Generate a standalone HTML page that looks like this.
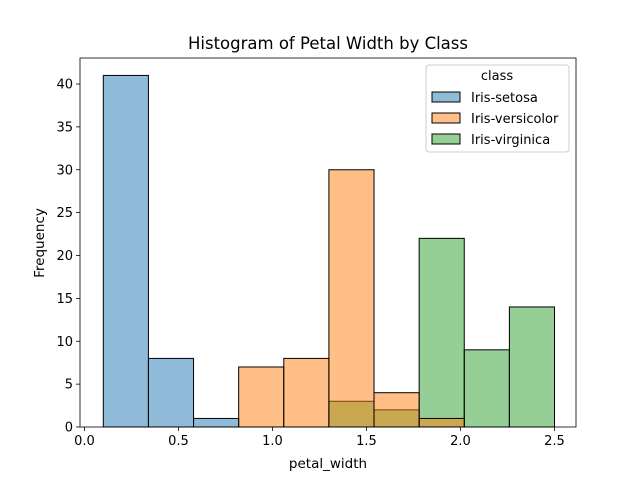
<!DOCTYPE html>
<html><head><meta charset="utf-8"><style>
body{margin:0;background:#fff;}
svg text{font-family:"DejaVu Sans","Liberation Sans",sans-serif;fill:#000;}
</style></head><body>
<svg id="chart" width="640" height="480" xmlns="http://www.w3.org/2000/svg">
<rect width="640" height="480" fill="#fff"/>
<text x="328" y="49" font-size="16.5" text-anchor="middle">Histogram of Petal Width by Class</text>
<g id="bars"></g>
<g id="axes"></g>
<text x="328" y="468" font-size="13.5" text-anchor="middle">petal_width</text>
<text x="44" y="243" font-size="13.5" text-anchor="middle" transform="rotate(-90 44 243)">Frequency</text>
<g id="legend"></g>
</svg>
<script>
const binStart = 0.1, binWidth = 0.24;
const classes = ["Iris-setosa","Iris-versicolor","Iris-virginica"];
const colors = ["#1f77b4","#ff7f0e","#2ca02c"];
const setosa = [41,8,1,0,0,0,0,0,0,0];
const versicolor = [0,0,0,7,8,30,4,1,0,0];
const virginica = [0,0,0,0,0,3,2,22,9,14];
const xTicks = [0.0,0.5,1.0,1.5,2.0,2.5];
const yTicks = [0,5,10,15,20,25,30,35,40];
const series = [setosa, versicolor, virginica];
const L=80,R=576,T=58,B=427;
const xs = v => 84.5 + v*188;
const ys = v => 427 - v*8.575;
const NS="http://www.w3.org/2000/svg";
function mk(tag, attrs, parent){const e=document.createElementNS(NS,tag);for(const k in attrs)e.setAttribute(k,attrs[k]);parent.appendChild(e);return e;}
const bars=document.getElementById('bars');
[2,1,0].forEach(si=>{
  const s=series[si];
  s.forEach((v,i)=>{
    const x0=xs(binStart+i*binWidth), x1=xs(binStart+(i+1)*binWidth);
    if(v<=0) return;
    const r=mk('rect',{x:x0,y:ys(v),width:x1-x0,height:ys(0)-ys(v),fill:colors[si],'fill-opacity':0.5,stroke:'#000','stroke-width':1},bars);
    
    
  });
});
const axes=document.getElementById('axes');
const frame=mk('rect',{x:L,y:T,width:R-L,height:B-T,fill:'none',stroke:'#000','stroke-width':0.8},axes);


xTicks.forEach(t=>{
  const x=xs(t);
  mk('line',{x1:x,y1:B,x2:x,y2:B+4,stroke:'#000','stroke-width':0.8},axes);
  const tx=mk('text',{x:x,y:B+18,'font-size':13,'text-anchor':'middle'},axes);
  tx.textContent=t.toFixed(1);
  
  
});
yTicks.forEach(t=>{
  const y=ys(t);
  mk('line',{x1:L-4,y1:y,x2:L,y2:y,stroke:'#000','stroke-width':0.8},axes);
  const tx=mk('text',{x:L-7,y:y+4.5,'font-size':13,'text-anchor':'end'},axes);
  tx.textContent=t;
  
  
});
const lg=document.getElementById('legend');
const box=mk('rect',{x:426,y:65,width:143,height:87,rx:3,fill:'#fff','fill-opacity':0.8,stroke:'#ccc'},lg);


const lt=mk('text',{x:497,y:80,'font-size':13,'text-anchor':'middle'},lg);
lt.textContent='class';


classes.forEach((c,i)=>{
  const y=92+i*21;
  const p=mk('rect',{x:432,y:y,width:28,height:10,fill:colors[i],'fill-opacity':0.5,stroke:'#000','stroke-width':1},lg);
  
  
  const t=mk('text',{x:471,y:y+10,'font-size':13},lg);
  t.textContent=c;
  
  
});
</script>
</body></html>
